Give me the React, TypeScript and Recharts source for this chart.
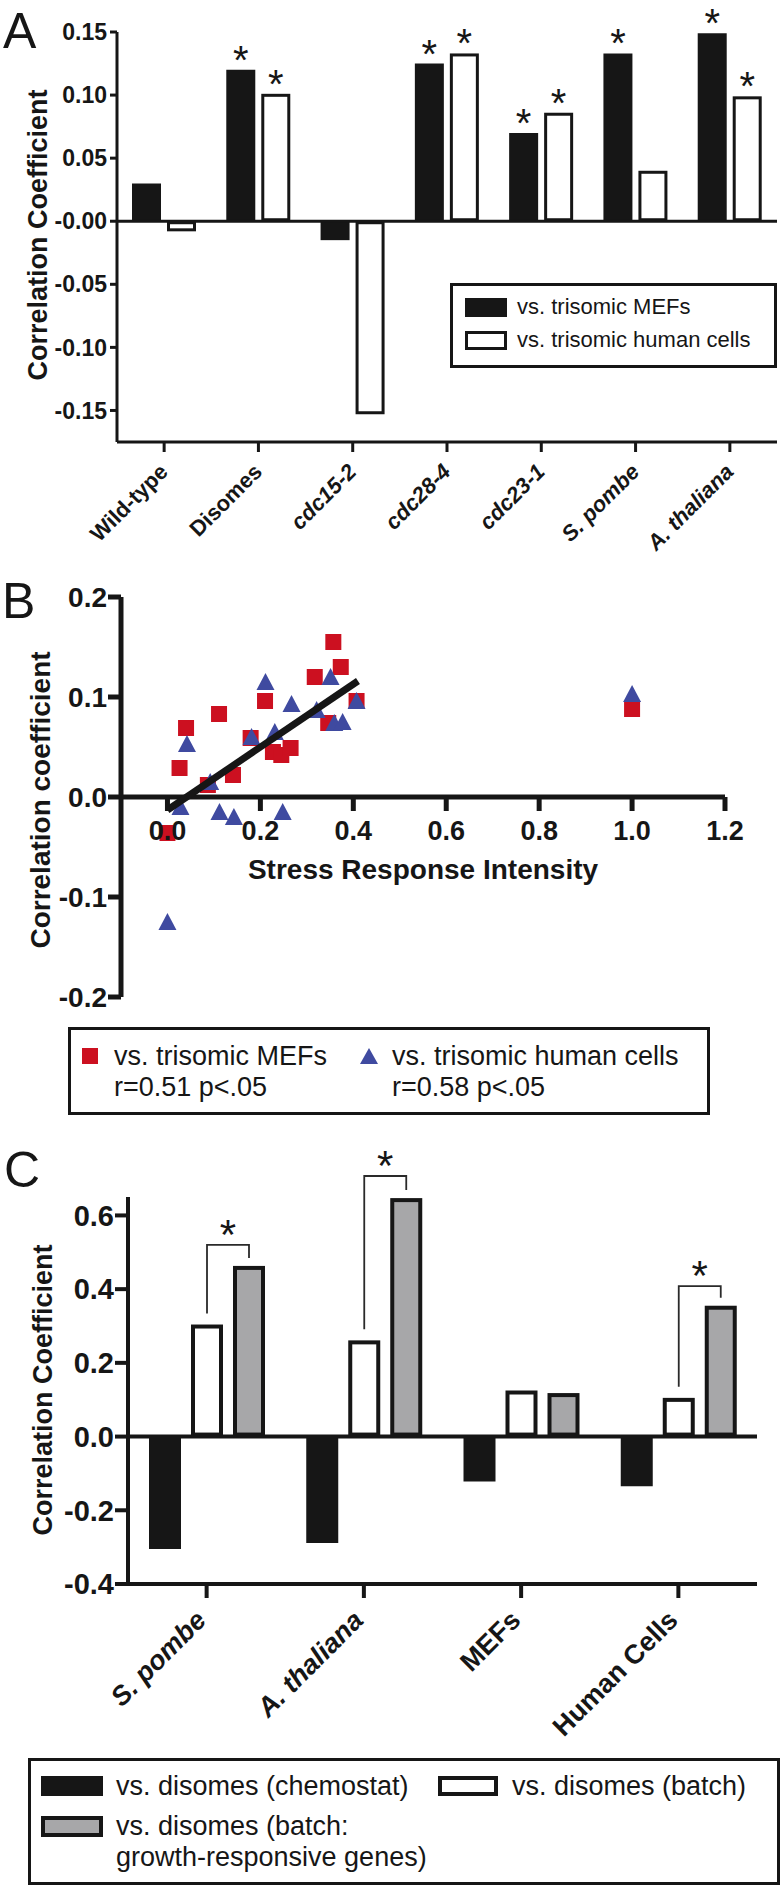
import {
  BarChart,
  Bar,
  XAxis,
  YAxis,
  ReferenceLine,
  Legend,
  LabelList,
  ScatterChart,
  Scatter,
} from "recharts";

const FONT = '"Liberation Sans", Arial, Helvetica, sans-serif';
const INK = "#161616";
const RED = "#cc1020";
const BLUE = "#3f4aa0";
const GREY = "#a7a7a9";

// panel A
const groupsA = ["Wild-type", "Disomes", "cdc15-2", "cdc28-4", "cdc23-1", "S. pombe", "A. thaliana"];
const italicA = ["cdc15-2", "cdc28-4", "cdc23-1", "S. pombe", "A. thaliana"];
const mefA = [0.03, 0.12, -0.015, 0.125, 0.07, 0.133, 0.149];
const humanA = [-0.008, 0.101, -0.153, 0.133, 0.086, 0.04, 0.099];
const mefStarA = [false, true, false, true, true, true, true];
const humanStarA = [false, true, false, true, true, false, true];
const ticksA = [-0.15, -0.1, -0.05, 0, 0.05, 0.1, 0.15];

// panel B
const mefX = [0.357, 0.373, 0.317, 0.21, 0.111, 0.04, 0.026, 0.407, 0.179, 0.346, 0.227, 0.245, 0.265, 0.141, 0.087, 0.0, 1.0];
const mefY = [0.155, 0.13, 0.12, 0.096, 0.083, 0.069, 0.029, 0.096, 0.059, 0.074, 0.045, 0.042, 0.049, 0.022, 0.012, -0.036, 0.088];
const humX = [0.351, 0.211, 0.267, 0.321, 0.407, 0.359, 0.377, 0.181, 0.231, 0.042, 0.092, 0.028, 0.112, 0.143, 0.248, 0.0, 1.0];
const humY = [0.119, 0.114, 0.092, 0.086, 0.095, 0.073, 0.074, 0.059, 0.064, 0.052, 0.014, -0.011, -0.016, -0.021, -0.016, -0.126, 0.102];
const fitX = [0, 0.41];
const fitY = [-0.013, 0.116];
const ticksBX = [0, 0.2, 0.4, 0.6, 0.8, 1, 1.2];
const ticksBY = [-0.2, -0.1, 0, 0.1, 0.2];

// panel C
const groupsC = ["S. pombe", "A. thaliana", "MEFs", "Human Cells"];
const italicC = ["S. pombe", "A. thaliana"];
const chemostatC = [-0.305, -0.289, -0.122, -0.135];
const batchC = [0.304, 0.261, 0.125, 0.105];
const growthC = [0.463, 0.647, 0.118, 0.355];
const bracketC = [0.52, 0.707, null, 0.408];
const ticksC = [-0.4, -0.2, 0, 0.2, 0.4, 0.6];

const dataA = groupsA.map((name, i) => ({
  name,
  mef: mefA[i],
  human: humanA[i],
  mefStar: mefStarA[i] ? "*" : "",
  humanStar: humanStarA[i] ? "*" : "",
}));
const mefB = mefX.map((x, i) => ({ x, y: mefY[i] }));
const humB = humX.map((x, i) => ({ x, y: humY[i] }));
const fitB = fitX.map((x, i) => ({ x, y: fitY[i] }));
const dataC = groupsC.map((name, i) => ({
  name,
  chemostat: chemostatC[i],
  batch: batchC[i],
  growth: growthC[i],
  bracket: bracketC[i] == null ? null : { top: bracketC[i], low: batchC[i], high: growthC[i] },
}));

const PLOT_H_B = 400;
const GAP_C = 10;

function Outlined(p: any) {
  const top = Math.min(p.y, p.y + p.height);
  const h = Math.abs(p.height);
  const s = p.sw;
  if (!h) return null;
  return (
    <rect
      x={p.x + s / 2}
      y={top + s / 2}
      width={Math.max(p.width - s, 0)}
      height={Math.max(h - s, 0)}
      fill={p.fillColor}
      stroke={INK}
      strokeWidth={s}
    />
  );
}

function Star(p: any) {
  if (!p.value) return null;
  const vb = p.viewBox ?? p;
  const top = Math.min(vb.y, vb.y + vb.height);
  return (
    <text x={vb.x + vb.width / 2} y={top + 4} textAnchor="middle" fontSize={40} fontFamily={FONT} fill={INK}>
      *
    </text>
  );
}

function Bracket(p: any) {
  const v = p.value;
  if (!v || typeof v !== "object") return null;
  const vb = p.viewBox ?? p;
  const base = vb.y + vb.height;
  const k = vb.height / v.high;
  const gx = vb.x + vb.width / 2;
  const wx = gx - (vb.width + GAP_C);
  const yTop = base - v.top * k;
  const yL = base - v.low * k - 11;
  const yR = vb.y - 8;
  return (
    <g>
      <path d={`M${wx},${yL}V${yTop}H${gx}V${yR}`} fill="none" stroke="#2a2a2a" strokeWidth={1.8} />
      <text x={(wx + gx) / 2} y={yTop + 4} textAnchor="middle" fontSize={42} fontFamily={FONT} fill={INK}>
        *
      </text>
    </g>
  );
}

function SlantTick(p: any) {
  const name = p.payload.value;
  const ax = p.x + p.dxOff;
  const ay = p.y + p.dyOff;
  return (
    <text
      x={ax}
      y={ay}
      transform={`rotate(-45 ${ax} ${ay})`}
      textAnchor="end"
      fontFamily={FONT}
      fontSize={p.size}
      fontWeight="bold"
      fontStyle={p.italics.includes(name) ? "italic" : "normal"}
      fill={INK}
    >
      {name}
    </text>
  );
}

function ZeroTick(p: any) {
  const zy = p.y - PLOT_H_B / 2;
  return (
    <g>
      <line x1={p.x} x2={p.x} y1={zy} y2={zy + 14} stroke={INK} strokeWidth={5} />
      <text x={p.x} y={zy + 43} textAnchor="middle" fontFamily={FONT} fontSize={27} fontWeight="bold" fill={INK}>
        {Number(p.payload.value).toFixed(1)}
      </text>
    </g>
  );
}

const vTitle = (text: string, x: number, y: number, size: number) => () => (
  <text
    x={x}
    y={y}
    transform={`rotate(-90 ${x} ${y})`}
    textAnchor="middle"
    fontFamily={FONT}
    fontSize={size}
    fontWeight="bold"
    fill={INK}
  >
    {text}
  </text>
);

const boxStyle = (w: number, h: number, size: number): React.CSSProperties => ({
  position: "relative",
  width: w,
  height: h,
  border: `3px solid ${INK}`,
  boxSizing: "border-box",
  background: "#fff",
  fontFamily: FONT,
  fontSize: size,
  color: INK,
  whiteSpace: "nowrap",
});

const abs = (left: number, top: number, extra: React.CSSProperties = {}): React.CSSProperties => ({
  position: "absolute",
  left,
  top,
  ...extra,
});

function LegendA() {
  return (
    <div style={boxStyle(327, 85, 22)}>
      <div style={abs(12, 12, { width: 42, height: 19, background: INK })} />
      <div style={abs(64, 8, { lineHeight: "26px" })}>vs. trisomic MEFs</div>
      <div style={abs(12, 45, { width: 42, height: 19, border: `3px solid ${INK}`, boxSizing: "border-box", background: "#fff" })} />
      <div style={abs(64, 41, { lineHeight: "26px" })}>vs. trisomic human cells</div>
    </div>
  );
}

function LegendB() {
  return (
    <div style={boxStyle(642, 88, 27)}>
      <div style={abs(11, 18, { width: 16, height: 16, background: RED })} />
      <div style={abs(43, 11, { lineHeight: "31px" })}>vs. trisomic MEFs</div>
      <div style={abs(43, 42, { lineHeight: "31px" })}>r=0.51 p&lt;.05</div>
      <svg style={abs(289, 18)} width={18} height={16}>
        <path d="M9,0L18,16L0,16Z" fill={BLUE} />
      </svg>
      <div style={abs(321, 11, { lineHeight: "31px" })}>vs. trisomic human cells</div>
      <div style={abs(321, 42, { lineHeight: "31px" })}>r=0.58 p&lt;.05</div>
    </div>
  );
}

function LegendC() {
  return (
    <div style={boxStyle(752, 127, 27)}>
      <div style={abs(10, 15, { width: 62, height: 20, background: INK })} />
      <div style={abs(85, 10, { lineHeight: "31px" })}>vs. disomes (chemostat)</div>
      <div style={abs(407, 15, { width: 60, height: 20, border: `4px solid ${INK}`, boxSizing: "border-box", background: "#fff" })} />
      <div style={abs(481, 10, { lineHeight: "31px" })}>vs. disomes (batch)</div>
      <div style={abs(10, 55, { width: 62, height: 21, border: `4px solid ${INK}`, boxSizing: "border-box", background: GREY })} />
      <div style={abs(85, 50, { lineHeight: "31px" })}>vs. disomes (batch:</div>
      <div style={abs(85, 81, { lineHeight: "31px" })}>growth-responsive genes)</div>
    </div>
  );
}

const letter = (ch: string, left: number, top: number) => (
  <div style={abs(left, top, { fontFamily: FONT, fontSize: 50, lineHeight: "50px", color: INK })}>{ch}</div>
);

export default function App() {
  return (
    <div style={{ position: "absolute", left: 0, top: 0, width: 783, height: 1886, background: "#fff", fontFamily: FONT }}>
      <div style={abs(0, 0)}>
        <BarChart width={783} height={600} data={dataA} margin={{ top: 32, right: 6, left: 0, bottom: 48 }} barGap={6}>
          <XAxis
            dataKey="name"
            interval={0}
            height={110}
            axisLine={{ stroke: INK, strokeWidth: 3 }}
            tickLine={{ stroke: INK, strokeWidth: 3 }}
            tickSize={10}
            tickMargin={0}
            tick={<SlantTick size={22} italics={italicA} dxOff={5} dyOff={21} />}
          />
          <YAxis
            width={117}
            domain={[-0.175, 0.15]}
            ticks={ticksA}
            tickFormatter={(v: number) => (v === 0 ? "-0.00" : v.toFixed(2))}
            axisLine={{ stroke: INK, strokeWidth: 3 }}
            tickLine={{ stroke: INK, strokeWidth: 3 }}
            tickSize={7}
            tickMargin={3}
            tick={{ fill: INK, fontSize: 23, fontWeight: 700, fontFamily: FONT }}
            label={vTitle("Correlation Coefficient", 47, 235, 27)}
          />
          <Bar dataKey="mef" fill={INK} barSize={29} isAnimationActive={false}>
            <LabelList dataKey="mefStar" content={Star} />
          </Bar>
          <Bar
            dataKey="human"
            barSize={29}
            isAnimationActive={false}
            shape={(p: any) => <Outlined {...p} fillColor="#fff" sw={3} />}
          >
            <LabelList dataKey="humanStar" content={Star} />
          </Bar>
          <ReferenceLine y={0} stroke={INK} strokeWidth={3} />
          <Legend
            layout="vertical"
            align="center"
            verticalAlign="middle"
            wrapperStyle={{ left: 450, top: 283, width: 327, height: 85 }}
            content={() => <LegendA />}
          />
        </BarChart>
      </div>

      <div style={abs(0, 560)}>
        <ScatterChart width={783} height={560} margin={{ top: 37, right: 58, left: 0, bottom: 100 }}>
          <XAxis
            type="number"
            dataKey="x"
            domain={[-0.1, 1.2]}
            ticks={ticksBX}
            height={23}
            axisLine={false}
            tickLine={false}
            tickSize={0}
            tickMargin={0}
            tick={<ZeroTick />}
            label={() => (
              <text x={423} y={PLOT_H_B / 2 + 37 + 82} textAnchor="middle" fontFamily={FONT} fontSize={28} fontWeight="bold" fill={INK}>
                Stress Response Intensity
              </text>
            )}
          />
          <YAxis
            type="number"
            dataKey="y"
            width={121}
            domain={[-0.2, 0.2]}
            ticks={ticksBY}
            tickFormatter={(v: number) => v.toFixed(1)}
            axisLine={{ stroke: INK, strokeWidth: 5 }}
            tickLine={{ stroke: INK, strokeWidth: 5 }}
            tickSize={13}
            tickMargin={1}
            tick={{ fill: INK, fontSize: 28, fontWeight: 700, fontFamily: FONT }}
            label={vTitle("Correlation coefficient", 50, 240, 28)}
          />
          <ReferenceLine y={0} stroke={INK} strokeWidth={5} />
          <Scatter
            data={mefB}
            isAnimationActive={false}
            shape={(p: any) => <rect x={p.cx - 8} y={p.cy - 8} width={16} height={16} fill={RED} />}
          />
          <Scatter
            data={humB}
            isAnimationActive={false}
            shape={(p: any) => <path d={`M${p.cx},${p.cy - 10}L${p.cx + 9},${p.cy + 7}L${p.cx - 9},${p.cy + 7}Z`} fill={BLUE} />}
          />
          <Scatter
            data={fitB}
            isAnimationActive={false}
            line={{ stroke: INK, strokeWidth: 7 }}
            shape={() => <g />}
          />
          <Legend
            layout="vertical"
            align="center"
            verticalAlign="middle"
            wrapperStyle={{ left: 68, top: 467, width: 642, height: 88 }}
            content={() => <LegendB />}
          />
        </ScatterChart>
      </div>

      <div style={abs(0, 1120)}>
        <BarChart width={783} height={766} data={dataC} margin={{ top: 77, right: 26, left: 0, bottom: 152 }} barGap={GAP_C}>
          <XAxis
            dataKey="name"
            interval={0}
            height={150}
            axisLine={{ stroke: INK, strokeWidth: 4 }}
            tickLine={{ stroke: INK, strokeWidth: 4 }}
            tickSize={14}
            tickMargin={0}
            tick={<SlantTick size={27} italics={italicC} dxOff={1} dyOff={24} />}
          />
          <YAxis
            width={128}
            domain={[-0.4, 0.65]}
            ticks={ticksC}
            tickFormatter={(v: number) => v.toFixed(1)}
            axisLine={{ stroke: INK, strokeWidth: 4 }}
            tickLine={{ stroke: INK, strokeWidth: 4 }}
            tickSize={13}
            tickMargin={1}
            tick={{ fill: INK, fontSize: 29, fontWeight: 700, fontFamily: FONT }}
            label={vTitle("Correlation Coefficient", 52, 270, 27)}
          />
          <Bar dataKey="chemostat" fill={INK} barSize={32} isAnimationActive={false} />
          <Bar
            dataKey="batch"
            barSize={32}
            isAnimationActive={false}
            shape={(p: any) => <Outlined {...p} fillColor="#fff" sw={4} />}
          />
          <Bar
            dataKey="growth"
            barSize={32}
            isAnimationActive={false}
            shape={(p: any) => <Outlined {...p} fillColor={GREY} sw={4} />}
          >
            <LabelList dataKey="bracket" content={Bracket} />
          </Bar>
          <ReferenceLine y={0} stroke={INK} strokeWidth={4} />
          <Legend
            layout="vertical"
            align="center"
            verticalAlign="middle"
            wrapperStyle={{ left: 28, top: 638, width: 752, height: 127 }}
            content={() => <LegendC />}
          />
        </BarChart>
      </div>

      {letter("A", 3, 6)}
      {letter("B", 2, 576)}
      {letter("C", 4, 1145)}
    </div>
  );
}
